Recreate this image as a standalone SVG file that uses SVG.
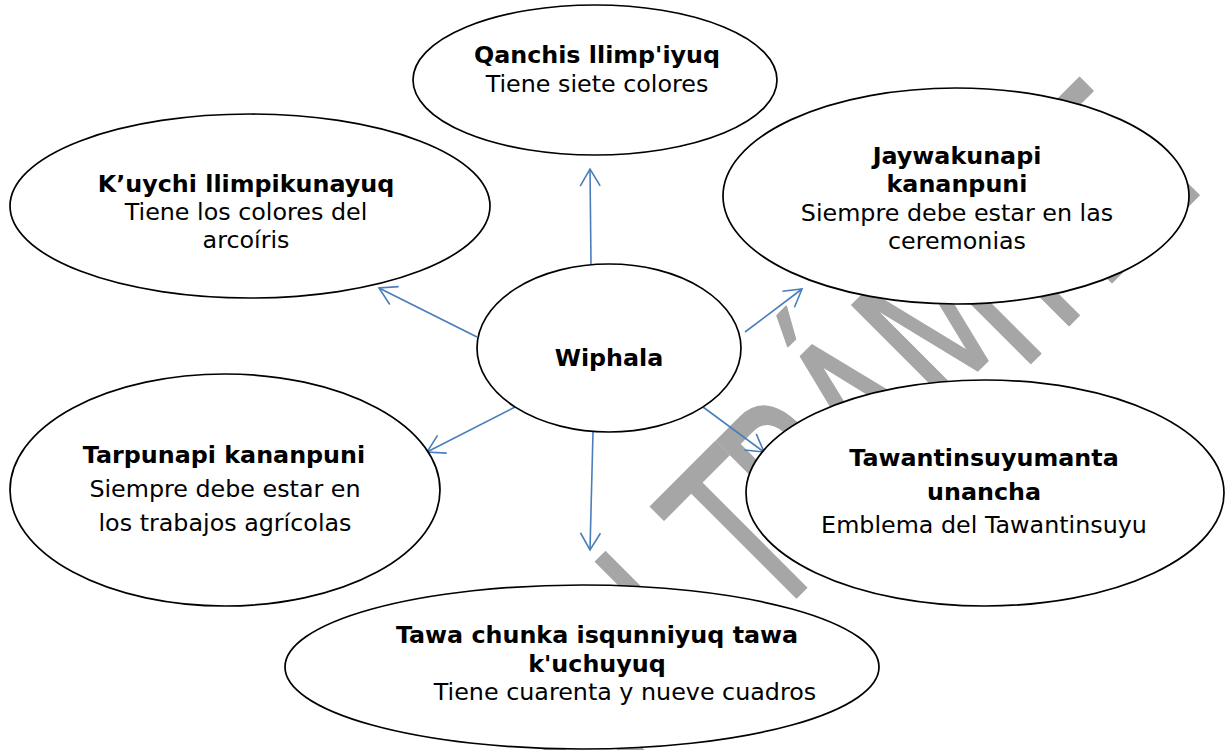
<svg xmlns="http://www.w3.org/2000/svg" width="1226" height="750" viewBox="0 0 1226 750">
<defs>
<style>
.node ellipse{fill:#fff;stroke:#000;stroke-width:1.7}
.t{font-family:"DejaVu Sans","Verdana","Liberation Sans",sans-serif;font-size:23.8px;fill:#000;text-anchor:middle}
.b{font-weight:bold}
.conn line{stroke:#4a7ebb;stroke-width:1.6;fill:none;marker-end:url(#arr)}
.wm{font-family:"DejaVu Sans","Liberation Sans",sans-serif;font-size:230px;fill:#a6a6a6;stroke:#a6a6a6;stroke-width:1.5;stroke-linejoin:round}
</style>
<marker id="arr" markerUnits="userSpaceOnUse" markerWidth="24" markerHeight="24" viewBox="-20 -12 24 24" refX="0" refY="0" orient="auto">
<path d="M-17,-10 L0,0 L-17,10" fill="none" stroke="#4a7ebb" stroke-width="1.6"/>
</marker>
</defs>
<rect width="1226" height="750" fill="#fff"/>
<g id="watermark">
<text class="wm" transform="rotate(-45) scale(0.65,1)" y="986" x="-246 -91 62 157 277 417 572 786 843 962">EN TRÁMITE</text>
</g>
<g id="connectors" class="conn">
<line x1="591" y1="264" x2="590" y2="169"/>
<line x1="477" y1="337" x2="379" y2="288"/>
<line x1="745" y1="332" x2="802" y2="289"/>
<line x1="515" y1="407" x2="427" y2="452"/>
<line x1="593" y1="432" x2="590" y2="550"/>
<line x1="703" y1="407" x2="764" y2="452"/>
</g>
<g id="node-qanchis" class="node">
<ellipse cx="595" cy="80" rx="182" ry="75"/>
<text class="t b" x="597" y="63">Qanchis llimp'iyuq</text>
<text class="t" x="597" y="92">Tiene siete colores</text>
</g>
<g id="node-kuychi" class="node">
<ellipse cx="250" cy="206" rx="240" ry="92"/>
<text class="t b" x="246" y="192">K’uychi llimpikunayuq</text>
<text class="t" x="246" y="220">Tiene los colores del</text>
<text class="t" x="246" y="248">arcoíris</text>
</g>
<g id="node-jaywakunapi" class="node">
<ellipse cx="956" cy="196" rx="233" ry="108"/>
<text class="t b" x="957" y="164">Jaywakunapi</text>
<text class="t b" x="957" y="192">kananpuni</text>
<text class="t" x="957" y="221">Siempre debe estar en las</text>
<text class="t" x="957" y="249">ceremonias</text>
</g>
<g id="node-wiphala" class="node">
<ellipse cx="609" cy="348" rx="132" ry="84"/>
<text class="t b" x="609" y="366">Wiphala</text>
</g>
<g id="node-tarpunapi" class="node">
<ellipse cx="225" cy="490" rx="215" ry="116"/>
<text class="t b" x="224" y="463">Tarpunapi kananpuni</text>
<text class="t" x="225" y="497">Siempre debe estar en</text>
<text class="t" x="225" y="531">los trabajos agrícolas</text>
</g>
<g id="node-tawantinsuyu" class="node">
<ellipse cx="985" cy="493" rx="239" ry="113"/>
<text class="t b" x="984" y="466">Tawantinsuyumanta</text>
<text class="t b" x="984" y="500">unancha</text>
<text class="t" x="984" y="533">Emblema del Tawantinsuyu</text>
</g>
<g id="node-tawachunka" class="node">
<ellipse cx="582" cy="667" rx="297" ry="82"/>
<text class="t b" x="597" y="643">Tawa chunka isqunniyuq tawa</text>
<text class="t b" x="597" y="672">k'uchuyuq</text>
<text class="t" x="625" y="700">Tiene cuarenta y nueve cuadros</text>
</g>
</svg>
